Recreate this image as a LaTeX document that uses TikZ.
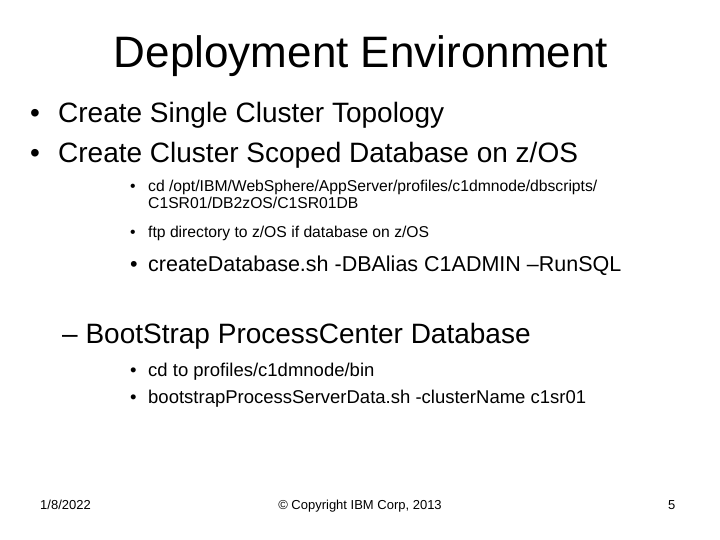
\documentclass[tikz,border=0pt]{standalone}
\usepackage{fontspec}
\setmainfont{Liberation Sans}
\begin{document}
\begin{tikzpicture}[x=1pt,y=-1pt,
  t/.style={anchor=base west,inner sep=0pt,font=\fontsize{#1}{#1}\selectfont}]
\useasboundingbox[fill=white] (0,0) rectangle (720,540);
\node[anchor=base,inner sep=0pt,font=\fontsize{44}{44}\selectfont] (title) at (361,68) {Deployment Environment};
\node[t=28] (b1d) at (30,123) {•};
\node[t=28] (b1) at (58,123) {Create Single Cluster Topology};
\node[t=28] (b2d) at (30,163) {•};
\node[t=28] (b2) at (58,163) {Create Cluster Scoped Database on z/OS};
\node[t=15.7] (s1d) at (130,192) {•};
\node[t=15.7] (s1) at (148,192) {cd /opt/IBM/WebSphere/AppServer/profiles/c1dmnode/dbscripts/};
\node[t=15.7] (s1b) at (148,209) {C1SR01/DB2zOS/C1SR01DB};
\node[t=15.7] (s2d) at (130,237) {•};
\node[t=15.7] (s2) at (148,237) {ftp directory to z/OS if database on z/OS};
\node[t=21.5] (c1d) at (130,271) {•};
\node[t=21.5] (c1) at (148,271) {createDatabase.sh -DBAlias C1ADMIN –RunSQL};
\node[t=28] (d1) at (62,343) {– BootStrap ProcessCenter Database};
\node[t=18.5] (e1d) at (130,376) {•};
\node[t=18.5] (e1) at (148,376) {cd to profiles/c1dmnode/bin};
\node[t=18.5] (e2d) at (130,403) {•};
\node[t=18.5] (e2) at (148,403) {bootstrapProcessServerData.sh -clusterName c1sr01};
\node[t=13] (f1) at (40,509) {1/8/2022};
\node[anchor=base,inner sep=0pt,font=\fontsize{13}{13}\selectfont] (f2) at (360,509) {© Copyright IBM Corp, 2013};
\node[t=13] (f3) at (668,509) {5};
\end{tikzpicture}
\end{document}
